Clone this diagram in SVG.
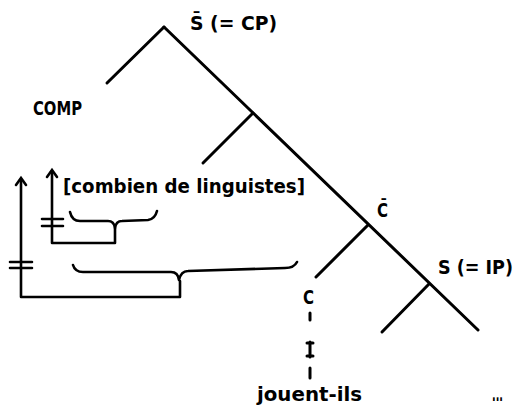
<svg xmlns="http://www.w3.org/2000/svg" width="516" height="407" viewBox="0 0 516 407">
<defs>
<style>
.t{font-family:"DejaVu Sans Condensed","DejaVu Sans",sans-serif;font-weight:bold;font-size:20px;fill:#000}
.e{stroke:#000;stroke-width:3;fill:none;stroke-linecap:round;stroke-linejoin:round}
.b{stroke:#000;stroke-width:2.6;fill:none;stroke-linecap:round;stroke-linejoin:round}
.h{stroke:#000;stroke-width:2.6;fill:none;stroke-linecap:round;stroke-linejoin:miter}
</style>
</defs>
<rect width="516" height="407" fill="#fff"/>
<g id="connectors">
<path class="e" d="M164,27 L107,83"/>
<path class="e" d="M164,27 L478,330"/>
<path class="e" d="M253,113 L203,163"/>
<path class="e" d="M368,225 L316,277"/>
<path class="e" d="M429,284 L382,332"/>
<path class="e" d="M310,313 L310,320 M310,342 L310,357 M307,343 L313,343 M307,356 L313,356 M310,368 L310,378"/>
<path class="b" d="M52,171 L52,243 L115,243 L115,228"/>
<path class="h" d="M47,177 L52,170 L57,177"/>
<path class="b" d="M42,219 L63,219 M42,226 L63,226"/>
<path class="b" d="M70,212 Q72,221 80,221 L108,221 Q114,221 115,228 Q116,221 122,221 L148,220 Q155,219 157,211"/>
<path class="b" d="M21,179 L21,297 L180,297 L180,281"/>
<path class="h" d="M16,185 L21,178 L26,185"/>
<path class="b" d="M10,262 L32,262 M10,268 L32,268"/>
<path class="b" d="M73,265 Q75,272 83,272 L171,272 Q178,272 179,280 Q181,271 188,271 L285,268 Q294,268 297,262"/>
</g>
<g id="node-CP"><text class="t" x="190" y="30" textLength="87" lengthAdjust="spacingAndGlyphs">S̄ (= CP)</text></g>
<g id="node-COMP"><text class="t" x="33" y="115" textLength="49" lengthAdjust="spacingAndGlyphs">COMP</text></g>
<g id="node-wh"><text class="t" x="63" y="193" textLength="242" lengthAdjust="spacingAndGlyphs">[combien de linguistes]</text></g>
<g id="node-Cbar"><text class="t" x="377" y="217" textLength="11" lengthAdjust="spacingAndGlyphs">C̄</text></g>
<g id="node-IP"><text class="t" x="438" y="274" textLength="75" lengthAdjust="spacingAndGlyphs">S (= IP)</text></g>
<g id="node-C"><text class="t" x="303" y="304" textLength="11" lengthAdjust="spacingAndGlyphs">C</text></g>
<g id="node-verb"><text class="t" x="257" y="401" textLength="105" lengthAdjust="spacingAndGlyphs">jouent-ils</text></g>
<g id="node-dots"><text class="t" x="492" y="401" textLength="11" lengthAdjust="spacingAndGlyphs">...</text></g>
</svg>
